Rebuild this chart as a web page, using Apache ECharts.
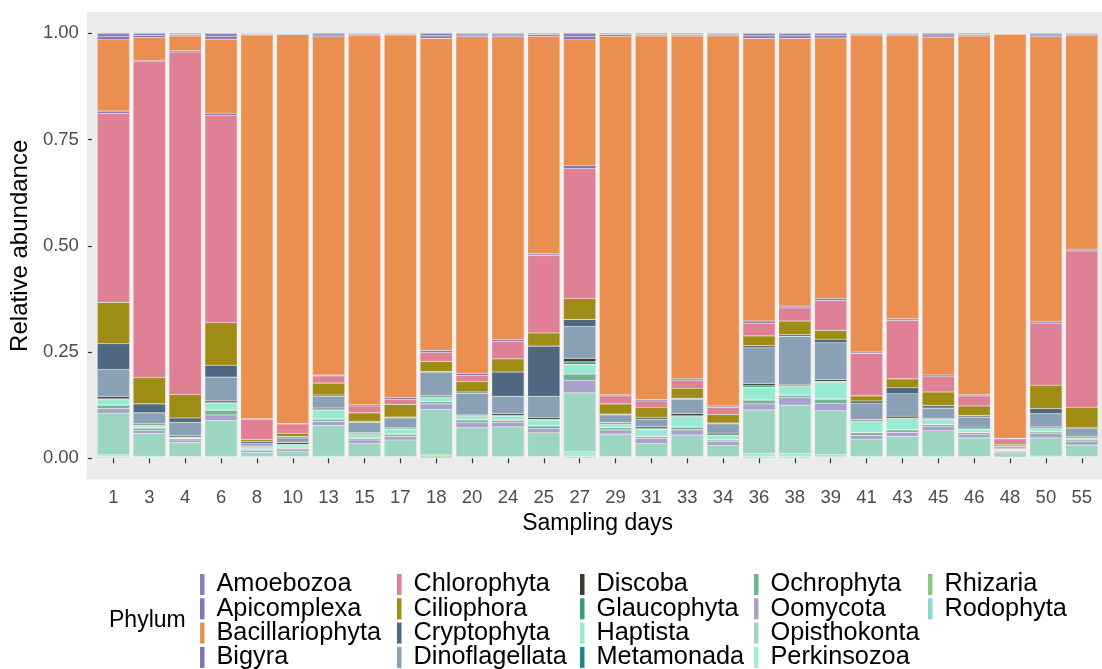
<!DOCTYPE html>
<html>
<head>
<meta charset="utf-8">
<title>Relative abundance by phylum</title>
<script src="https://cdn.jsdelivr.net/npm/echarts@6/dist/echarts.min.js"></script>
<style>
  html, body { margin: 0; padding: 0; background: #ffffff; }
  #chart { width: 1102px; height: 669px; }
</style>
</head>
<body>
<div id="chart"></div>
<script>
// Sampling days (x categories)
const days = ['1','3','4','6','8','10','13','15','17','18','20','24','25','27','29','31','33','34','36','38','39','41','43','45','46','48','50','55'];

// Relative abundance of each phylum per sampling day
const Amoebozoa       = [.008,.005,.003,.007,.002,.001,.004,.002,.002,.006,.004,.004,.003,.008,.003,.003,.003,.003,.006,.006,.005,.002,.002,.004,.003,.001,.004,.002];
const Apicomplexa     = [.007,.005,.003,.007,.002,.002,.004,.003,.002,.006,.004,.004,.004,.007,.004,.003,.003,.003,.006,.006,.006,.003,.003,.005,.003,.001,.004,.003];
const Bacillariophyta = [.168,.054,.035,.174,.903,.915,.796,.869,.853,.734,.792,.713,.512,.296,.843,.856,.807,.871,.665,.630,.613,.745,.667,.795,.844,.951,.670,.503];
const Bigyra          = [.005,.003,.003,.005,.001,.001,.002,.003,.004,.005,.005,.004,.004,.007,.003,.003,.004,.003,.005,.004,.005,.003,.004,.004,.003,.001,.004,.004];
const Chlorophyta     = [.445,.743,.806,.488,.048,.022,.017,.016,.012,.021,.014,.041,.182,.306,.019,.015,.018,.017,.030,.031,.070,.100,.137,.036,.024,.013,.146,.368];
const Ciliophora      = [.097,.062,.055,.100,.005,.008,.028,.020,.030,.024,.025,.031,.031,.049,.024,.024,.024,.020,.023,.032,.021,.012,.021,.032,.022,.004,.055,.047];
const Cryptophyta     = [.061,.021,.010,.028,.004,.003,.003,.003,.002,.002,.003,.057,.118,.017,.002,.004,.002,.002,.005,.004,.008,.006,.014,.006,.004,.001,.012,.003];
const Dinoflagellata  = [.064,.026,.032,.056,.006,.011,.028,.024,.023,.054,.051,.041,.050,.075,.018,.018,.034,.022,.084,.113,.087,.038,.053,.024,.024,.004,.030,.018];
const Discoba         = [.005,.003,.003,.004,.002,.004,.003,.002,.002,.003,.002,.004,.004,.008,.003,.004,.005,.004,.005,.003,.004,.003,.004,.002,.003,.002,.003,.002];
const Glaucophyta     = [.002,.002,.001,.001,.002,.002,.002,.002,.002,.002,.002,.002,.002,.006,.002,.002,.002,.001,.004,.002,.002,.002,.002,.002,.002,.001,.002,.003];
const Haptista        = [.012,.004,.002,.016,.003,.006,.020,.008,.011,.009,.007,.009,.013,.021,.006,.016,.024,.010,.029,.020,.039,.025,.025,.010,.007,.002,.007,.002];
const Metamonada      = [.002,.001,.001,.001,.001,.001,.001,.001,.001,.001,.001,.001,.001,.002,.001,.001,.001,.001,.002,.001,.001,.001,.001,.001,.001,.001,.001,.002];
const Ochrophyta      = [.007,.005,.003,.011,.002,.002,.005,.004,.005,.005,.006,.005,.006,.015,.005,.004,.006,.003,.008,.005,.010,.006,.006,.004,.004,.002,.004,.004];
const Oomycota        = [.011,.008,.006,.013,.005,.006,.010,.008,.008,.013,.012,.010,.010,.029,.010,.012,.012,.010,.014,.018,.017,.009,.010,.010,.008,.003,.010,.008];
const Opisthokonta    = [.098,.053,.033,.084,.010,.012,.072,.031,.039,.107,.068,.070,.056,.138,.053,.031,.051,.026,.102,.113,.103,.040,.046,.060,.044,.010,.043,.027];
const Perkinsozoa     = [.004,.003,.002,.003,.002,.002,.003,.002,.002,.003,.002,.002,.002,.012,.002,.002,.002,.002,.008,.008,.006,.003,.003,.003,.002,.001,.003,.002];
const Rhizaria        = [.002,.001,.001,.001,.001,.001,.001,.001,.001,.004,.001,.001,.001,.001,.001,.001,.001,.001,.001,.001,.001,.001,.001,.001,.001,.001,.001,.001];
const Rodophyta       = [.002,.001,.001,.001,.001,.001,.001,.001,.001,.001,.001,.001,.001,.003,.001,.001,.001,.001,.003,.003,.002,.001,.001,.001,.001,.001,.001,.001];

// Y-axis tick values
const yTicks = [0, 0.25, 0.5, 0.75, 1];

// Phyla in alphabetical order (legend order, top of each bar first)
const phyla = [
  ['Amoebozoa', Amoebozoa, '#8a7eb8'],
  ['Apicomplexa', Apicomplexa, '#8376b3'],
  ['Bacillariophyta', Bacillariophyta, '#ea8f50'],
  ['Bigyra', Bigyra, '#7e72b0'],
  ['Chlorophyta', Chlorophyta, '#e08094'],
  ['Ciliophora', Ciliophora, '#9f8c15'],
  ['Cryptophyta', Cryptophyta, '#4f6781'],
  ['Dinoflagellata', Dinoflagellata, '#8aa0b5'],
  ['Discoba', Discoba, '#3b3a33'],
  ['Glaucophyta', Glaucophyta, '#3c9f74'],
  ['Haptista', Haptista, '#98ebd2'],
  ['Metamonada', Metamonada, '#158989'],
  ['Ochrophyta', Ochrophyta, '#6fb594'],
  ['Oomycota', Oomycota, '#a9a1cd'],
  ['Opisthokonta', Opisthokonta, '#9dd5c3'],
  ['Perkinsozoa', Perkinsozoa, '#a6ecda'],
  ['Rhizaria', Rhizaria, '#8ac87b'],
  ['Rodophyta', Rodophyta, '#86dad4']
];

const FONT = '"Liberation Sans", Arial, Helvetica, sans-serif';

// Stack from the bottom up: reverse alphabetical, so Amoebozoa ends on top
const series = phyla.slice().reverse().map(([name, values, color]) => ({
  name: name,
  type: 'bar',
  stack: 'abundance',
  data: values,
  barCategoryGap: '10%',
  itemStyle: { color: color, borderColor: 'rgba(255,255,255,0.22)', borderWidth: 0.6 },
  emphasis: { disabled: true }
}));

// Legend: five columns of four keys
const legendCols = [
  ['Amoebozoa','Apicomplexa','Bacillariophyta','Bigyra'],
  ['Chlorophyta','Ciliophora','Cryptophyta','Dinoflagellata'],
  ['Discoba','Glaucophyta','Haptista','Metamonada'],
  ['Ochrophyta','Oomycota','Opisthokonta','Perkinsozoa'],
  ['Rhizaria','Rodophyta']
];
const legendX = [200, 397, 580, 754, 928];
const legends = legendCols.map((names, i) => ({
  data: names,
  orient: 'vertical',
  left: legendX[i],
  top: 572,
  width: 200,
  height: 140,
  padding: 0,
  itemWidth: 4.5,
  itemHeight: 21,
  itemGap: -0.7,
  icon: 'rect',
  itemStyle: { borderWidth: 0 },
  textStyle: { fontFamily: FONT, fontSize: 25.3, color: '#000', lineHeight: 23.3, padding: [0, 0, 0, 7] }
}));

const chart = echarts.init(document.getElementById('chart'), null, { renderer: 'canvas' });
chart.setOption({
  animation: false,
  backgroundColor: '#ffffff',
  title: {
    text: 'Phylum',
    left: 109,
    top: 609,
    padding: 0,
    textStyle: { fontFamily: FONT, fontSize: 23, fontWeight: 'normal', color: '#000' }
  },
  legend: legends,
  graphic: [{
    type: 'rect',
    z: -100,
    silent: true,
    shape: { x: 86.7, y: 12, width: 1102 - 86.7, height: 467.6 },
    style: { fill: '#ebebeb' }
  }],
  grid: { left: 90.3, top: 33.3, width: 1009.4, height: 425 },
  xAxis: {
    type: 'category',
    data: days,
    offset: 21.3,
    axisLine: { show: false },
    axisTick: { show: true, alignWithLabel: true, length: 5, lineStyle: { color: '#333333', width: 1.2 } },
    axisLabel: { fontFamily: FONT, fontSize: 18.5, color: '#4d4d4d', margin: 9, interval: 0 },
    splitLine: { show: true, interval: 0, showMinLine: false, showMaxLine: false, lineStyle: { color: '#f7f3f2', width: 2.6 } },
    name: 'Sampling days',
    nameLocation: 'middle',
    nameGap: 32,
    nameTextStyle: { fontFamily: FONT, fontSize: 23, color: '#000' }
  },
  yAxis: {
    type: 'value',
    min: 0,
    max: 1,
    interval: 0.25,
    offset: 3.6,
    axisLine: { show: false },
    axisTick: { show: true, length: 4, lineStyle: { color: '#333333', width: 1.2 } },
    axisLabel: {
      fontFamily: FONT, fontSize: 18.5, color: '#4d4d4d', margin: 13,
      formatter: v => yTicks.includes(v) ? v.toFixed(2) : ''
    },
    splitLine: { show: false },
    name: 'Relative abundance',
    nameLocation: 'middle',
    nameGap: 52,
    nameTextStyle: { fontFamily: FONT, fontSize: 24, color: '#000' }
  },
  series: series
});
</script>
</body>
</html>
